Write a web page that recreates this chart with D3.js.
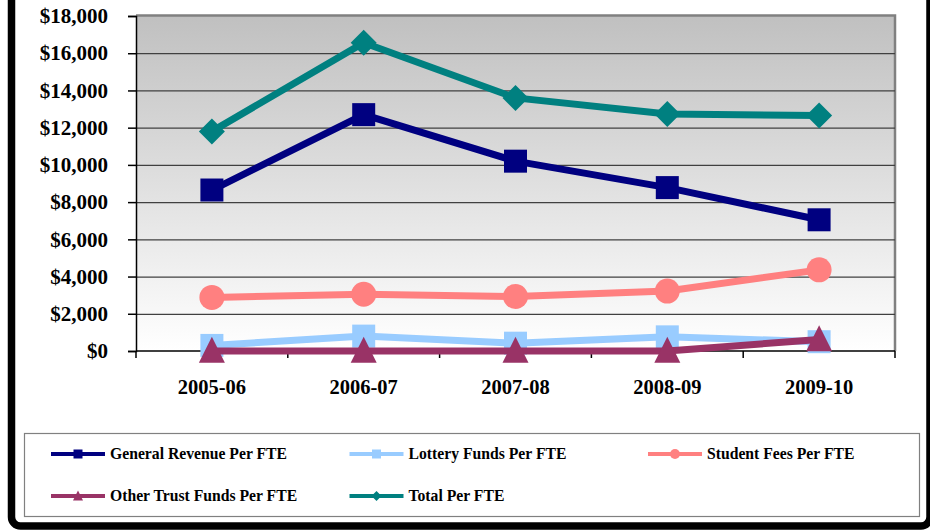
<!DOCTYPE html>
<html lang="en">
<head>
    <meta charset="UTF-8">
    <title>Funding Per FTE</title>
    <script src="https://cdn.jsdelivr.net/npm/d3@7"></script>
    <style>
        body {
            margin: 0;
            background-color: white;
        }
        svg text {
            font-family: "Palatino Linotype", "Book Antiqua", Palatino, "Liberation Serif", serif;
            font-weight: bold;
        }
    </style>
</head>
<body>
    <svg id="chart" width="930" height="531"></svg>

    <script>
        // data
        let years = ["2005-06", "2006-07", "2007-08", "2008-09", "2009-10"]
        let general_revenue = [8650, 12700, 10200, 8780, 7050]
        let lottery_funds = [300, 800, 420, 760, 500]
        let student_fees = [2880, 3050, 2930, 3220, 4360]
        let other_trust = [0, 0, 0, 0, 620]
        let total_per_fte = [11800, 16560, 13600, 12730, 12660]
        let y_ticks = [0, 2000, 4000, 6000, 8000, 10000, 12000, 14000, 16000, 18000]

        let series = [
            {name: "General Revenue Per FTE", values: general_revenue, color: "#000080", marker: "square"},
            {name: "Lottery Funds Per FTE", values: lottery_funds, color: "#99ccff", marker: "square"},
            {name: "Student Fees Per FTE", values: student_fees, color: "#ff8080", marker: "circle"},
            {name: "Other Trust Funds Per FTE", values: other_trust, color: "#993366", marker: "triangle"},
            {name: "Total Per FTE", values: total_per_fte, color: "#008080", marker: "diamond"}
        ]

        let svg = d3.select("#chart")

        let pLeft = 136, pRight = 895, pTop = 16, pBottom = 351

        let x = d3.scaleBand().domain(years).range([pLeft, pRight])
        let y = d3.scaleLinear().domain([0, 18000]).range([pBottom, pTop])
        let cx = d => x(d) + x.bandwidth() / 2

        // plot background gradient
        let grad = svg.append("defs").append("linearGradient")
            .attr("id", "bg").attr("x1", 0).attr("y1", 0).attr("x2", 0).attr("y2", 1)
        grad.append("stop").attr("offset", "0%").attr("stop-color", "#c0c0c0")
        grad.append("stop").attr("offset", "100%").attr("stop-color", "#ffffff")

        svg.append("rect")
            .attr("x", pLeft).attr("y", pTop)
            .attr("width", pRight - pLeft).attr("height", pBottom - pTop)
            .attr("fill", "url(#bg)")

        // plot border top and right
        svg.append("path")
            .attr("d", `M${pLeft},${pTop - 0.5}H${pRight}V${pBottom}`)
            .attr("fill", "none").attr("stroke", "#808080").attr("stroke-width", 2.5)

        // gridlines
        svg.append("g")
            .attr("transform", `translate(${pLeft},0)`)
            .call(d3.axisLeft(y).tickValues(y_ticks.slice(1, -1)).tickSize(-(pRight - pLeft)).tickFormat(""))
            .call(g => g.select(".domain").remove())
            .call(g => g.selectAll("line").attr("stroke", "#404040").attr("stroke-width", 1.2))

        // y axis
        svg.append("g")
            .attr("transform", `translate(${pLeft},0)`)
            .call(d3.axisLeft(y).tickValues(y_ticks).tickSize(8).tickPadding(20)
                .tickFormat(d => "$" + d3.format(",")(d)))
            .call(g => g.select(".domain").attr("stroke", "black").attr("stroke-width", 1.5))
            .call(g => g.selectAll("line").attr("stroke", "black").attr("stroke-width", 1.5))
            .call(g => g.selectAll("text").attr("font-size", 21).attr("fill", "black"))
            .attr("font-family", null).attr("font-size", null)

        // x axis: line, ticks between categories, labels centred
        let xg = svg.append("g").attr("transform", `translate(0,${pBottom})`)
        xg.append("line")
            .attr("x1", pLeft).attr("x2", pRight)
            .attr("stroke", "black").attr("stroke-width", 1.5)
        xg.selectAll(".tk")
            .data(years.map(d => x(d)).concat([pRight]))
            .enter().append("line")
            .attr("x1", d => d).attr("x2", d => d)
            .attr("y1", 0).attr("y2", 7)
            .attr("stroke", "black").attr("stroke-width", 1.5)
        xg.selectAll(".lab")
            .data(years)
            .enter().append("text")
            .attr("x", d => cx(d)).attr("y", 43)
            .attr("text-anchor", "middle")
            .attr("font-size", 20.5)
            .text(d => d)

        // marker shapes
        function markerPath(type, s) {
            if (type === "square") return `M${-s / 2},${-s / 2}h${s}v${s}h${-s}Z`
            if (type === "diamond") return `M0,${-s / 2}L${s / 2},0L0,${s / 2}L${-s / 2},0Z`
            if (type === "triangle") return `M0,${-s * 0.55}L${s / 2},${s * 0.45}L${-s / 2},${s * 0.45}Z`
            return d3.arc()({innerRadius: 0, outerRadius: s / 2, startAngle: 0, endAngle: 2 * Math.PI})
        }
        let markerSize = {square: 23, circle: 25, triangle: 26, diamond: 26}

        let line = d3.line().x(d => cx(d.year)).y(d => y(d.value))

        series.forEach(function (s) {
            let pts = years.map((yr, i) => ({year: yr, value: s.values[i]}))
            let g = svg.append("g")
            g.append("path")
                .datum(pts)
                .attr("d", line)
                .attr("fill", "none")
                .attr("stroke", s.color)
                .attr("stroke-width", 7)
                .attr("stroke-linejoin", "round")
            g.selectAll(".m")
                .data(pts)
                .enter().append("path")
                .attr("transform", d => `translate(${cx(d.year)},${y(d.value)})`)
                .attr("d", markerPath(s.marker, markerSize[s.marker]))
                .attr("fill", s.color)
        })

        // legend
        svg.append("rect")
            .attr("x", 24.5).attr("y", 433.5)
            .attr("width", 895).attr("height", 83)
            .attr("fill", "white").attr("stroke", "#808080").attr("stroke-width", 1.2)

        let legendMarker = {square: 9, circle: 10, triangle: 10, diamond: 10}
        series.forEach(function (s, i) {
            let lx = 51 + (i % 3) * 298.5
            let ly = i < 3 ? 454 : 496
            let lg = svg.append("g").attr("transform", `translate(${lx},${ly})`)
            lg.append("line")
                .attr("x1", 0).attr("x2", 54)
                .attr("stroke", s.color).attr("stroke-width", 4)
            lg.append("path")
                .attr("transform", "translate(27,0)")
                .attr("d", markerPath(s.marker, legendMarker[s.marker]))
                .attr("fill", s.color)
            lg.append("text")
                .attr("x", 59).attr("y", 5)
                .attr("font-size", 15.7)
                .text(s.name)
        })

        // outer black frame
        svg.append("rect")
            .attr("x", 11.5).attr("y", -30)
            .attr("width", 918.5).attr("height", 556)
            .attr("rx", 9)
            .attr("fill", "none").attr("stroke", "black").attr("stroke-width", 7.5)
    </script>
</body>
</html>
